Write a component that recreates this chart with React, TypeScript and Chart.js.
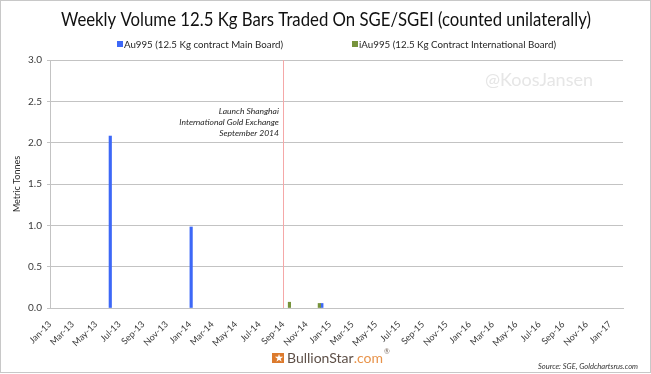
import React, { useEffect, useRef } from "react";
import { Chart, registerables } from "chart.js";

Chart.register(...registerables);

// ---------- data ----------
const TITLE = "Weekly Volume 12.5 Kg Bars Traded On SGE/SGEI (counted unilaterally)";
const SERIES_AU = "Au995 (12.5 Kg contract Main Board)";
const SERIES_IAU = "iAu995 (12.5 Kg Contract International Board)";
const Y_TITLE = "Metric Tonnes";

const AU995_DATES = ["2013-06-04", "2014-01-01", "2014-12-08"];
const AU995_VALUES = [2.08, 0.98, 0.055];
const IAU995_DATES = ["2014-09-21", "2014-12-08"];
const IAU995_VALUES = [0.07, 0.055];

const X_TICK_LABELS = [
  "Jan-13", "Mar-13", "May-13", "Jul-13", "Sep-13", "Nov-13",
  "Jan-14", "Mar-14", "May-14", "Jul-14", "Sep-14", "Nov-14",
  "Jan-15", "Mar-15", "May-15", "Jul-15", "Sep-15", "Nov-15",
  "Jan-16", "Mar-16", "May-16", "Jul-16", "Sep-16", "Nov-16",
  "Jan-17",
];
const Y_TICKS = [0, 0.5, 1.0, 1.5, 2.0, 2.5, 3.0];
const AXIS_START = "2013-01-01";
const AXIS_END = "2017-02-04";

const LAUNCH_DATE = "2014-09-02";
const ANNOTATION_LINES = ["Launch Shanghai", "International Gold Exchange", "September 2014"];
const WATERMARK = "@KoosJansen";
const SOURCE = "Source: SGE, Goldchartsrus.com";

// ---------- colors ----------
const BLUE = "#3d68f7";
const GREEN = "#77933c";
const GRID = "#c3c3c3";
const TEXT = "#262626";
const FONT = "Lato, 'Open Sans', sans-serif";

const MONTHS = ["Jan", "Feb", "Mar", "Apr", "May", "Jun", "Jul", "Aug", "Sep", "Oct", "Nov", "Dec"];
const BASE = Date.UTC(2013, 0, 1);
function dateToDays(s: string): number {
  const [y, m, d] = s.split("-").map(Number);
  return (Date.UTC(y, m - 1, d) - BASE) / 864e5;
}
function labelToDays(l: string): number {
  const [m, y] = l.split("-");
  return (Date.UTC(2000 + Number(y), MONTHS.indexOf(m), 1) - BASE) / 864e5;
}

const decorPlugin = {
  id: "decor",
  beforeDatasetsDraw(chart: any) {
    const { ctx, chartArea, scales } = chart;
    const x = Math.round(scales.x.getPixelForValue(dateToDays(LAUNCH_DATE))) + 0.5;
    ctx.save();
    ctx.strokeStyle = "#f5a8a8";
    ctx.lineWidth = 1;
    ctx.beginPath();
    ctx.moveTo(x, chartArea.top);
    ctx.lineTo(x, chartArea.bottom);
    ctx.stroke();
    ctx.restore();
  },
  afterDraw(chart: any) {
    const { ctx, chartArea, scales } = chart;
    ctx.save();
    // frame
    ctx.strokeStyle = "#c8c8c8";
    ctx.lineWidth = 1;
    ctx.strokeRect(0.5, 0.5, 650, 372);

    // title
    ctx.fillStyle = "#111";
    ctx.font = `18.5px ${FONT}`;
    ctx.textAlign = "center";
    ctx.textBaseline = "middle";
    ctx.fillText(TITLE, 326, 20, 530);

    // legend
    ctx.font = `10px ${FONT}`;
    ctx.textAlign = "left";
    ctx.fillStyle = BLUE;
    ctx.fillRect(117, 41, 6, 6);
    ctx.fillStyle = TEXT;
    ctx.fillText(SERIES_AU, 124, 44.5, 159);
    ctx.fillStyle = GREEN;
    ctx.fillRect(352, 41, 6, 6);
    ctx.fillStyle = TEXT;
    ctx.fillText(SERIES_IAU, 359, 44.5, 197);

    // watermark
    ctx.fillStyle = "#e6e6e6";
    ctx.font = `18px ${FONT}`;
    ctx.textAlign = "right";
    ctx.fillText(WATERMARK, 593, 80);

    // y-axis title
    ctx.save();
    ctx.translate(17, (chartArea.top + chartArea.bottom) / 2);
    ctx.rotate(-Math.PI / 2);
    ctx.textAlign = "center";
    ctx.fillStyle = TEXT;
    ctx.font = `9px ${FONT}`;
    ctx.fillText(Y_TITLE, 0, 0);
    ctx.restore();

    // annotation
    const ax = scales.x.getPixelForValue(dateToDays(LAUNCH_DATE)) - 4.5;
    ctx.font = `italic 8.5px ${FONT}`;
    ctx.textAlign = "right";
    ctx.fillStyle = TEXT;
    ANNOTATION_LINES.forEach((t, i) => ctx.fillText(t, ax, 111 + i * 11));

    // source
    ctx.font = `italic 8px ${FONT}`;
    ctx.textAlign = "right";
    ctx.fillStyle = "#333";
    ctx.fillText(SOURCE, 638, 366.5, 100);

    // logo
    ctx.fillStyle = "#dc7a2d";
    ctx.fillRect(272, 353, 12, 10);
    ctx.fillStyle = "#fff";
    ctx.font = `bold 9px ${FONT}`;
    ctx.textAlign = "center";
    ctx.fillText("\u2605", 278.5, 358.5);
    ctx.textAlign = "left";
    ctx.font = `14px ${FONT}`;
    ctx.fillStyle = "#5e5048";
    const brand = "BullionStar";
    ctx.fillText(brand, 287, 358.5);
    const bw = ctx.measureText(brand).width;
    ctx.fillStyle = "#e8934a";
    ctx.fillText(".com", 287 + bw, 358.5);
    const cw = ctx.measureText(".com").width;
    ctx.font = `7px ${FONT}`;
    ctx.fillStyle = "#7a6a60";
    ctx.fillText("\u00AE", 288 + bw + cw, 352);
    ctx.restore();
  },
};

export default function App() {
  const ref = useRef<HTMLCanvasElement | null>(null);

  useEffect(() => {
    document.body.style.margin = "0";
    let chart: Chart | null = null;
    let cancelled = false;
    const make = () => {
      if (cancelled || !ref.current) return;
      chart = new Chart(ref.current, {
        type: "bar",
        data: {
          datasets: [
            {
              label: SERIES_IAU,
              data: IAU995_DATES.map((d, i) => ({ x: dateToDays(d), y: IAU995_VALUES[i] })),
              backgroundColor: GREEN,
              barThickness: 2.5,
              grouped: true,
            },
            {
              label: SERIES_AU,
              data: AU995_DATES.map((d, i) => ({ x: dateToDays(d), y: AU995_VALUES[i] })),
              backgroundColor: BLUE,
              barThickness: 2.5,
              grouped: true,
            },
          ],
        },
        options: {
          responsive: false,
          animation: false,
          devicePixelRatio: 1,
          layout: { padding: { top: 60, right: 28, bottom: 26, left: 0 } },
          plugins: { legend: { display: false }, title: { display: false }, tooltip: { enabled: false } },
          scales: {
            x: {
              type: "linear",
              offset: false,
              min: dateToDays(AXIS_START),
              max: dateToDays(AXIS_END),
              grid: { display: false },
              border: { display: true, color: GRID, width: 1 },
              afterBuildTicks: (s: any) => {
                s.ticks = X_TICK_LABELS.map((l) => ({ value: labelToDays(l) }));
              },
              afterFit: (s: any) => {
                s.height = 40;
              },
              ticks: {
                autoSkip: false,
                minRotation: 45,
                maxRotation: 45,
                padding: 3,
                color: "#3a3a3a",
                font: { family: FONT, size: 9 },
                callback: (_v: any, i: number) => X_TICK_LABELS[i],
              },
            },
            y: {
              min: 0,
              max: 3,
              afterBuildTicks: (s: any) => {
                s.ticks = Y_TICKS.map((v) => ({ value: v }));
              },
              afterFit: (s: any) => {
                s.width = 50;
              },
              grid: { color: GRID, lineWidth: 1, drawTicks: true, tickLength: 3 },
              border: { display: true, color: GRID, width: 1 },
              ticks: {
                padding: 5,
                color: "#3a3a3a",
                font: { family: FONT, size: 10 },
                callback: (v: any) => Number(v).toFixed(1),
              },
            },
          },
        },
        plugins: [decorPlugin],
      } as any);
    };
    const fontsReady = (document as any).fonts
      ? Promise.all([
          (document as any).fonts.load(`19px Lato`),
          (document as any).fonts.load(`italic 9px Lato`),
        ]).catch(() => null)
      : Promise.resolve(null);
    fontsReady.then(make);
    return () => {
      cancelled = true;
      if (chart) chart.destroy();
    };
  }, []);

  return (
    <div style={{ width: 651, height: 374, background: "#fff" }}>
      <canvas ref={ref} width={651} height={374} style={{ display: "block", width: 651, height: 374 }} />
    </div>
  );
}
